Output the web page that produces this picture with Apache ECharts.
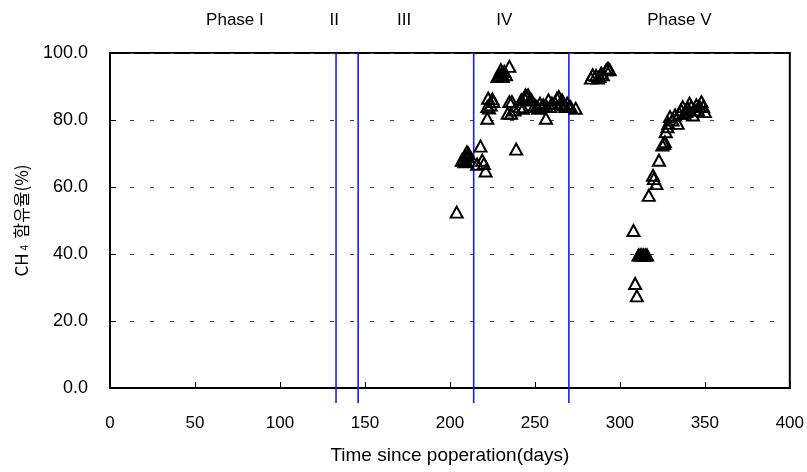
<!DOCTYPE html>
<html>
<head>
<meta charset="utf-8">
<script src="https://cdn.jsdelivr.net/npm/echarts@6/dist/echarts.min.js"></script>
<style>html,body{margin:0;padding:0;background:#fff}#c{width:807px;height:472px}</style>
</head>
<body>
<div id="c"></div>
<script>
const xTicks = [0, 50, 100, 150, 200, 250, 300, 350, 400];
const yTicks = [0, 20, 40, 60, 80, 100];
const phaseBoundaries = [133, 146, 214, 270];
const phaseNames = ['Phase I', 'II', 'III', 'IV', 'Phase V'];
const phaseLabelDays = [73.5, 132, 173, 232, 335];
const ch4Days = [
  204, 207, 208, 208.5, 209, 209.5, 210, 210.5, 211,
  216, 218, 219, 220, 221,
  222, 222, 222.5, 223, 224, 225, 225.5,
  228, 229, 230, 230.5, 231, 232, 233, 235,
  234, 235, 236, 236.5, 238, 239,
  241, 242, 243, 244, 244.5, 245, 246, 247, 248,
  250, 251, 252, 253, 254, 255, 256.5, 257, 258, 259, 260, 262, 263, 264, 265, 266, 267, 268, 269, 270, 271, 274,
  283, 284, 286, 287, 288, 289, 290, 292, 293, 294,
  308, 309, 310, 311, 312, 313, 314, 315, 316,
  317, 319.5, 320, 321.5, 323, 325, 326, 326.5, 327, 328, 328.5, 329.5, 331, 332.5, 334,
  335, 336, 337, 338, 339, 340, 341, 342, 343, 344, 345, 346, 347, 348, 349, 350
];
const ch4Values = [
  52.5, 68, 68.5, 67.5, 69.5, 67.8, 70.5, 69, 70,
  66.8, 72.2, 68, 67, 64.8,
  80.5, 84, 86.5, 83.6, 84.5, 86.3, 85.5,
  93, 93.5, 95, 94, 93, 94.5, 93.5, 96,
  82, 85.5, 82, 85.5, 83, 71.3,
  84, 86, 83.5, 86.5, 87.5, 87, 87.5, 86, 86,
  84.5, 84, 83.5, 85, 84, 84.5, 80.5, 84, 86, 84, 85, 85, 86.5, 87, 85, 86, 84.5, 84, 85, 84, 84, 83.5,
  92.5, 93.5, 93.3, 92.5, 93, 94, 93.5, 95, 95.5, 95,
  47, 31.2, 27.5, 39.7, 39.7, 39.7, 39.7, 39.7, 39.7,
  57.5, 63.5, 62.5, 61, 68, 72.5, 73, 73.5, 76.5, 78, 79, 81, 80, 81.5, 79,
  82, 83, 84, 82, 82.5, 83.5, 85, 84, 81.5, 83, 84.5, 83, 84, 85.5, 84, 82.5
];
const boundaryBottom = -4.5;

const chart = echarts.init(document.getElementById('c'));
const font = '"Liberation Sans",Arial,sans-serif';
const boundarySeries = phaseBoundaries.map(b => ({
  type: 'line',
  clip: false,
  silent: true,
  symbol: 'none',
  z: 1,
  lineStyle: {color: '#1a1aff', width: 1.6},
  data: [[b, boundaryBottom], [b, yTicks[yTicks.length - 1]]]
}));
chart.setOption({
  animation: false,
  grid: {left: 110, right: 17, top: 53, bottom: 84, show: true, borderColor: '#000', borderWidth: 2, backgroundColor: 'transparent'},
  xAxis: {
    type: 'value', min: xTicks[0], max: xTicks[xTicks.length - 1], interval: 50,
    axisLine: {show: true, onZero: false, lineStyle: {color: '#000', width: 2}},
    axisTick: {show: true, inside: true, length: 6, lineStyle: {color: '#000', width: 1}},
    splitLine: {show: false},
    axisLabel: {color: '#000', fontSize: 17, fontFamily: font, margin: 27},
    name: 'Time since poperation(days)', nameLocation: 'middle', nameGap: 58,
    nameTextStyle: {color: '#000', fontSize: 19, fontFamily: font}
  },
  yAxis: {
    type: 'value', min: yTicks[0], max: yTicks[yTicks.length - 1], interval: 20,
    axisLine: {show: true, lineStyle: {color: '#000', width: 2}},
    axisTick: {show: true, inside: true, length: 6, lineStyle: {color: '#000', width: 1}},
    splitLine: {show: true, lineStyle: {color: '#444', width: 1, type: [4, 16]}},
    axisLabel: {color: '#000', fontSize: 18, fontFamily: font, margin: 22, formatter: v => v.toFixed(1)},
    name: '{a|CH}{s| 4 }{a| 함유율(%)}', nameLocation: 'middle', nameGap: 80, nameRotate: 90,
    nameTextStyle: {
      rich: {
        a: {color: '#000', fontSize: 17, fontFamily: '"Noto Sans CJK KR",' + font},
        s: {color: '#000', fontSize: 10, fontFamily: font, verticalAlign: 'bottom', padding: [6, 0, 0, 0]}
      }
    }
  },
  series: [
    ...boundarySeries,
    {
      type: 'scatter',
      clip: false,
      z: 3,
      symbol: 'triangle',
      symbolSize: [12, 11],
      itemStyle: {color: 'rgba(255,255,255,0)', borderColor: '#000', borderWidth: 2, opacity: 1},
      data: ch4Days.map((d, i) => [d, ch4Values[i]])
    },
    {
      type: 'scatter',
      clip: false,
      symbolSize: 0,
      silent: true,
      data: phaseLabelDays.map((d, i) => ({value: [d, 100], name: phaseNames[i]})),
      label: {show: true, position: 'inside', offset: [0, -33], formatter: p => p.name, color: '#000', opacity: 1, fontSize: 17, fontFamily: font}
    }
  ]
});
</script>
</body>
</html>
